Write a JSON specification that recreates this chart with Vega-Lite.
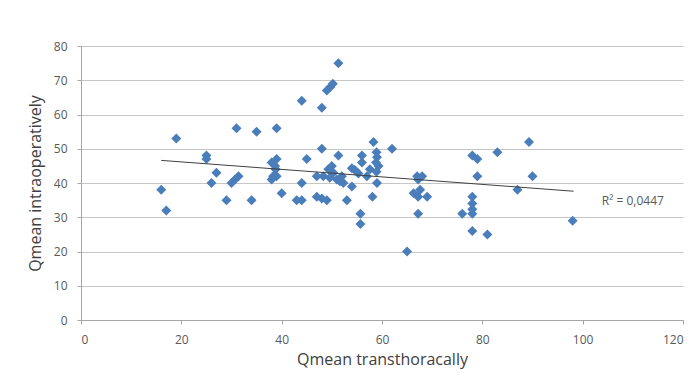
{
  "$schema": "https://vega.github.io/schema/vega-lite/v6.json",
  "width": 602,
  "height": 274,
  "autosize": {"type": "none"},
  "padding": {"left": 81, "top": 46, "right": 15, "bottom": 63},
  "background": "white",
  "config": {
    "view": {"stroke": null},
    "font": "Open Sans",
    "axis": {
      "labelFont": "Open Sans",
      "titleFont": "Open Sans",
      "labelColor": "#595959",
      "titleColor": "#404040",
      "labelFontSize": 12,
      "titleFontSize": 16,
      "titleFontWeight": "normal",
      "gridColor": "#c6c6c6",
      "gridWidth": 1.2,
      "domainColor": "#a6a6a6",
      "tickColor": "#a6a6a6",
      "tickSize": 4
    }
  },
  "datasets": {
    "points": [
      {"tt": 16, "io": 38}, {"tt": 17, "io": 32}, {"tt": 19, "io": 53}, {"tt": 25, "io": 48},
      {"tt": 25, "io": 47}, {"tt": 26, "io": 40}, {"tt": 27, "io": 43}, {"tt": 29, "io": 35},
      {"tt": 30, "io": 40}, {"tt": 30.7, "io": 41}, {"tt": 31.4, "io": 42}, {"tt": 31, "io": 56},
      {"tt": 34, "io": 35}, {"tt": 35, "io": 55}, {"tt": 38, "io": 41}, {"tt": 38.3, "io": 42},
      {"tt": 38, "io": 46}, {"tt": 38.7, "io": 45}, {"tt": 39, "io": 47}, {"tt": 38.8, "io": 44},
      {"tt": 39, "io": 42}, {"tt": 39, "io": 56}, {"tt": 40, "io": 37}, {"tt": 43, "io": 35},
      {"tt": 44, "io": 35}, {"tt": 44, "io": 64}, {"tt": 44, "io": 40}, {"tt": 45, "io": 47},
      {"tt": 47, "io": 42}, {"tt": 47, "io": 36}, {"tt": 48, "io": 62}, {"tt": 48, "io": 50},
      {"tt": 48, "io": 35.5}, {"tt": 48.3, "io": 42}, {"tt": 49, "io": 35}, {"tt": 49, "io": 67},
      {"tt": 49.7, "io": 68}, {"tt": 50.2, "io": 69}, {"tt": 51.3, "io": 75}, {"tt": 51.3, "io": 48},
      {"tt": 49.3, "io": 44}, {"tt": 50, "io": 45}, {"tt": 50.3, "io": 43}, {"tt": 49.6, "io": 41.5},
      {"tt": 51, "io": 41}, {"tt": 51.6, "io": 40.5}, {"tt": 52, "io": 42}, {"tt": 52.3, "io": 40},
      {"tt": 53, "io": 35}, {"tt": 54, "io": 39}, {"tt": 54, "io": 44.3}, {"tt": 54.6, "io": 43.8},
      {"tt": 55.3, "io": 42.8}, {"tt": 56, "io": 48}, {"tt": 56, "io": 46}, {"tt": 55.7, "io": 31},
      {"tt": 55.7, "io": 28}, {"tt": 57, "io": 42}, {"tt": 57.6, "io": 44}, {"tt": 58.3, "io": 52},
      {"tt": 58.1, "io": 36}, {"tt": 58.9, "io": 49}, {"tt": 59, "io": 47.5}, {"tt": 58.8, "io": 46},
      {"tt": 59.3, "io": 45}, {"tt": 58.9, "io": 43.3}, {"tt": 59, "io": 40}, {"tt": 62, "io": 50},
      {"tt": 65, "io": 20}, {"tt": 66.3, "io": 37}, {"tt": 67.2, "io": 36}, {"tt": 67, "io": 42},
      {"tt": 68, "io": 42}, {"tt": 67.2, "io": 41}, {"tt": 67.2, "io": 31}, {"tt": 67.6, "io": 38},
      {"tt": 69, "io": 36}, {"tt": 76, "io": 31}, {"tt": 78, "io": 48}, {"tt": 79, "io": 47},
      {"tt": 78, "io": 36}, {"tt": 78, "io": 34}, {"tt": 78, "io": 32.3}, {"tt": 78, "io": 31},
      {"tt": 78, "io": 26}, {"tt": 79, "io": 42}, {"tt": 81, "io": 25}, {"tt": 83, "io": 49},
      {"tt": 87, "io": 38}, {"tt": 89.3, "io": 52}, {"tt": 90, "io": 42}, {"tt": 98, "io": 29}
    ],
    "trend": [
      {"tt": 16, "io": 46.6},
      {"tt": 98.2, "io": 37.6}
    ],
    "label": [
      {"tt": 110, "io": 34.8, "text": "R² = 0,0447"}
    ]
  },
  "encoding": {
    "x": {
      "field": "tt", "type": "quantitative",
      "scale": {"domain": [0, 120], "nice": false},
      "axis": {"title": "Qmean transthoracally", "values": [0, 20, 40, 60, 80, 100, 120], "tickCount": 7, "grid": false, "labelPadding": 10, "titlePadding": 6}
    },
    "y": {
      "field": "io", "type": "quantitative",
      "scale": {"domain": [0, 80], "nice": false},
      "axis": {"title": "Qmean intraoperatively", "values": [0, 10, 20, 30, 40, 50, 60, 70, 80], "tickCount": 9, "labelOverlap": false, "grid": true, "labelPadding": 10, "titlePadding": 10}
    }
  },
  "layer": [
    {
      "data": {"name": "points"},
      "mark": {"type": "point", "shape": "diamond", "filled": true, "size": 100, "color": "#4a7ebb", "opacity": 1}
    },
    {
      "data": {"name": "trend"},
      "mark": {"type": "line", "color": "#404040", "strokeWidth": 1}
    },
    {
      "data": {"name": "label"},
      "mark": {"type": "text", "font": "Open Sans", "fontSize": 12, "color": "#595959", "align": "center", "baseline": "middle"},
      "encoding": {
        "text": {"field": "text"}
      }
    }
  ]
}
